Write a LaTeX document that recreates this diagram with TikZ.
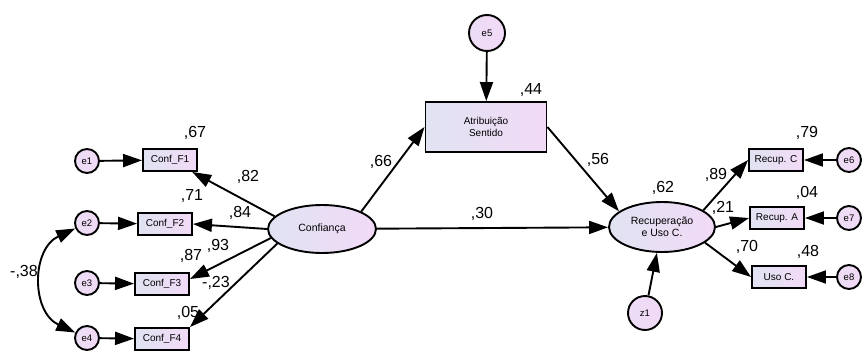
\documentclass[tikz,border=0pt]{standalone}
\usepackage{fontspec}
\setmainfont{Liberation Sans}
\definecolor{nodeblue}{RGB}{224, 227, 242}
\definecolor{nodepink}{RGB}{242, 218, 247}
\definecolor{errpink}{RGB}{236, 220, 244}
\usetikzlibrary{shapes.geometric, arrows.meta, positioning}

\begin{document}
\begin{tikzpicture}[x=1pt, y=-1pt, >={Triangle[length=19pt, width=13pt]},
  obs/.style={draw, line width=1.9pt, left color=nodeblue, right color=nodepink, minimum width=54pt, minimum height=22pt, inner sep=1pt, font=\fontsize{10}{12}\selectfont},
  lat/.style={draw, ellipse, line width=1.9pt, left color=nodeblue, right color=nodepink, inner sep=0pt, align=center, font=\fontsize{10.5}{12.5}\selectfont},
  err/.style={draw, circle, line width=1.9pt, left color=errpink, right color=nodepink, minimum size=24pt, inner sep=0pt, font=\fontsize{9.5}{11}\selectfont},
  arr/.style={->, line width=1.9pt},
  coef/.style={inner sep=0pt, font=\fontsize{16}{18}\selectfont}]
  \useasboundingbox (0,0) rectangle (862,351);

  % ===== CONFIANCA (left) =====
  \node[lat, minimum width=108pt, minimum height=48pt] (conf) at (322, 229) {Confiança};

  \node[obs] (f1) at (170, 160) {Conf\_F1};
  \node[obs] (f2) at (165, 224) {Conf\_F2};
  \node[obs] (f3) at (162, 284) {Conf\_F3};
  \node[obs] (f4) at (162, 339) {Conf\_F4};

  \node[err] (e1) at (87, 161) {e1};
  \node[err] (e2) at (87, 223) {e2};
  \node[err] (e3) at (87, 283) {e3};
  \node[err] (e4) at (87, 338) {e4};

  \draw[arr] (e1) -- (f1);
  \draw[arr] (e2) -- (f2);
  \draw[arr] (e3) -- (f3);
  \draw[arr] (e4) -- (f4);

  \draw[arr] (conf.165) -- (f1);
  \draw[arr] (conf.west) -- (f2.east);
  \draw[arr] (conf.190) -- (f3.10);
  \draw[arr] (conf.198) -- (f4.north east);

  % covariance e2 - e4
  \draw[<->, line width=1.9pt] (e2) to[out=205, in=155, looseness=1.2] (e4);

  % loadings
  \node[coef] (c82) at (248, 177) {,82};
  \node[coef] (c84) at (240, 213) {,84};
  \node[coef] (c93) at (218, 246) {,93};
  \node[coef] (c23) at (216, 283) {-,23};
  \node[coef] (c38) at (24, 272) {-,38};
  \node[coef] (r67) at (195, 133) {,67};
  \node[coef] (r71) at (192, 196) {,71};
  \node[coef] (r87) at (191, 256) {,87};
  \node[coef] (r05) at (188, 313) {,05};

  % ===== ATRIBUICAO (top) =====
  \node[obs, minimum width=121pt, minimum height=50pt, align=center] (atr) at (486, 127) {Atribuição\\Sentido};
  \node[err, minimum size=36pt] (e5) at (487, 33) {e5};
  \draw[arr] (e5) -- (atr);
  \node[coef] (r44) at (531, 90) {,44};

  \draw[arr] (conf.24) -- (atr.west);
  \node[coef] (c66) at (381, 162) {,66};

  % ===== RECUPERACAO (right) =====
  \node[lat, minimum width=106pt, minimum height=50pt] (rec) at (662, 227) {Recuperação\\e Uso C.};
  \node[err, minimum size=34pt] (z1) at (645, 313) {z1};
  \draw[arr] (z1) -- (rec);
  \node[coef] (r62) at (663, 188) {,62};

  \draw[arr] (conf) -- (rec);
  \node[coef] (c30) at (482, 214) {,30};
  \draw[arr] (atr.east) -- (rec.160);
  \node[coef] (c56) at (598, 160) {,56};

  \node[obs] (rc) at (776, 160) {Recup. C};
  \node[obs] (ra) at (777, 218) {Recup. A};
  \node[obs] (uc) at (779, 277) {Uso C.};

  \node[err] (e6) at (849, 160) {e6};
  \node[err] (e7) at (849, 218) {e7};
  \node[err] (e8) at (849, 277) {e8};

  \draw[arr] (e6) -- (rc);
  \draw[arr] (e7) -- (ra);
  \draw[arr] (e8) -- (uc);

  \draw[arr] (rec.22) -- (rc.west);
  \draw[arr] (rec.east) -- (ra.west);
  \draw[arr] (rec.340) -- (uc.west);

  \node[coef] (c89) at (716, 175) {,89};
  \node[coef] (c21) at (723, 208) {,21};
  \node[coef] (c70) at (747, 247) {,70};
  \node[coef] (r79) at (807, 133) {,79};
  \node[coef] (r04) at (807, 193) {,04};
  \node[coef] (r48) at (808, 252) {,48};
\end{tikzpicture}
\end{document}
